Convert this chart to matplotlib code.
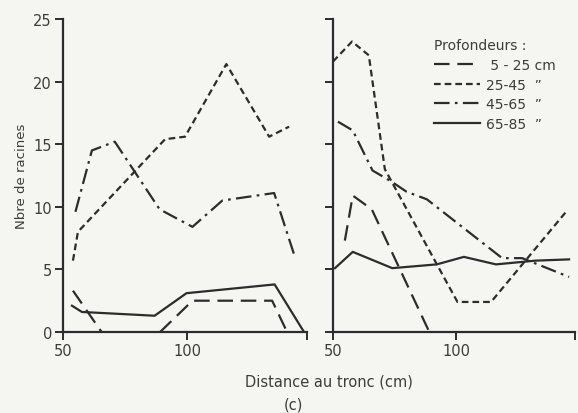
import numpy as np
import matplotlib

matplotlib.use("Agg")
import matplotlib.pyplot as plt
from matplotlib.lines import Line2D

# ---- données (c) ----
profondeurs = [" 5 - 25 cm", "25-45  \u201d", "45-65  \u201d", "65-85  \u201d"]

# panneau gauche
g_x_5_25 = [54, 65.5, np.nan, 89, 102, 134, 140]
g_y_5_25 = [3.3, 0, np.nan, 0, 2.5, 2.5, 0]
g_x_25_45 = [54, 56, 91, 99, 115.6, 132.8, 140.8]
g_y_25_45 = [5.7, 8.0, 15.4, 15.6, 21.4, 15.6, 16.4]
g_x_45_65 = [55, 61.6, 70.8, 88.8, 102, 114, 134.8, 142.8]
g_y_45_65 = [9.6, 14.5, 15.2, 9.8, 8.4, 10.5, 11.1, 6.2]
g_x_65_85 = [53.6, 57.6, 86.8, 99.6, 135, 146.8]
g_y_65_85 = [2.1, 1.6, 1.3, 3.1, 3.8, 0]

# panneau droit
d_x_5_25 = [54.8, 58, 65.7, 89]
d_y_5_25 = [7.3, 10.9, 9.8, 0]
d_x_25_45 = [50, 57.7, 64.5, 71, 100.4, 114, 144.8]
d_y_25_45 = [21.6, 23.2, 22.1, 13.0, 2.4, 2.4, 9.7]
d_x_45_65 = [52, 58, 66, 73.8, 79.8, 88, 118.5, 126.6, 145.6]
d_y_45_65 = [16.8, 16.1, 12.9, 12.0, 11.2, 10.6, 5.9, 5.9, 4.4]
d_x_65_85 = [50.8, 58, 74, 92, 103, 116, 132, 145.6]
d_y_65_85 = [5.1, 6.4, 5.1, 5.4, 6.0, 5.4, 5.7, 5.8]

x_ticks = [50, 100]
y_ticks = [0, 5, 10, 15, 20, 25]
x_max = 148

INK = "#2c2c2c"
TXT = "#3c3c3c"
BG = "#f5f5f2"

styles = [
    dict(linestyle=(0, (7, 3.5))),
    dict(linestyle=(0, (3, 1.8))),
    dict(linestyle=(0, (7, 2.4, 1.2, 2.4))),
    dict(linestyle="-"),
]

plt.rcParams.update({"font.family": "DejaVu Sans", "font.size": 10})

fig = plt.figure(figsize=(5.78, 4.14), dpi=100, facecolor=BG)
ax_g = fig.add_axes([63 / 578, 81 / 414, 244 / 578, 313 / 414])
ax_d = fig.add_axes([333 / 578, 81 / 414, 242 / 578, 313 / 414])

series = [
    (ax_g, [(g_x_5_25, g_y_5_25), (g_x_25_45, g_y_25_45),
            (g_x_45_65, g_y_45_65), (g_x_65_85, g_y_65_85)]),
    (ax_d, [(d_x_5_25, d_y_5_25), (d_x_25_45, d_y_25_45),
            (d_x_45_65, d_y_45_65), (d_x_65_85, d_y_65_85)]),
]

for ax, courbes in series:
    ax.set_facecolor(BG)
    for (xs, ys), st in zip(courbes, styles):
        ax.plot(xs, ys, color=INK, linewidth=1.6, **st)
    ax.set_xlim(50, x_max)
    ax.set_ylim(0, 25)
    for s in ("top", "right"):
        ax.spines[s].set_visible(False)
    for s in ("left", "bottom"):
        ax.spines[s].set_color(INK)
        ax.spines[s].set_linewidth(1.6)
    ax.set_xticks(x_ticks + [x_max])
    ax.set_xticklabels([str(t) for t in x_ticks] + [""])
    ax.set_yticks(y_ticks)
    ax.tick_params(direction="out", length=6, width=1.4, color=INK,
                   labelcolor=TXT, labelsize=10.5, pad=2)

ax_d.set_yticklabels([])
ax_g.set_ylabel("Nbre de racines", fontsize=9.5, color=TXT, labelpad=4)

fig.text(329 / 578, 1 - 382 / 414, "Distance au tronc (cm)", ha="center",
         va="center", fontsize=10.5, color=TXT)
fig.text(293 / 578, 1 - 405 / 414, "(c)", ha="center", va="center",
         fontsize=10.5, color=TXT)

handles = [Line2D([], [], color=INK, linewidth=1.6, **st) for st in styles]
leg = ax_d.legend(handles, profondeurs, title="Profondeurs :",
                  loc="upper left", bbox_to_anchor=(0.39, 0.96),
                  frameon=False, handlelength=3.3, handletextpad=0.4,
                  labelspacing=0.4, borderpad=0, alignment="left",
                  fontsize=10)
leg.get_title().set_fontsize(10)
leg.get_title().set_color(TXT)
for t in leg.get_texts():
    t.set_color(TXT)

fig.savefig("out.png", dpi=100, facecolor=BG)
